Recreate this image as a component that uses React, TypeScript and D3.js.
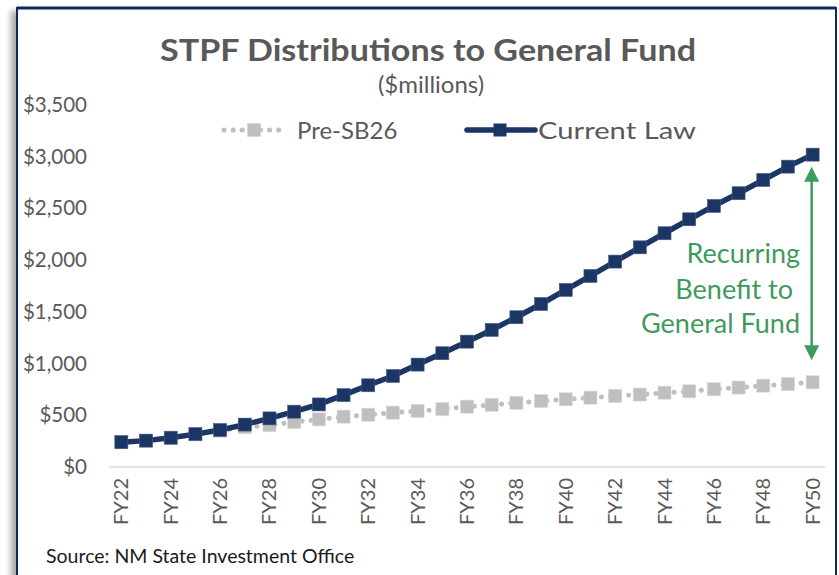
import { useEffect, useRef } from 'react';
import * as d3 from 'd3';

const years: string[] = [
  'FY22', 'FY23', 'FY24', 'FY25', 'FY26', 'FY27', 'FY28', 'FY29', 'FY30', 'FY31',
  'FY32', 'FY33', 'FY34', 'FY35', 'FY36', 'FY37', 'FY38', 'FY39', 'FY40', 'FY41',
  'FY42', 'FY43', 'FY44', 'FY45', 'FY46', 'FY47', 'FY48', 'FY49', 'FY50',
];

// $millions
const preSB26: number[] = [
  240, 254, 283, 315, 350, 385, 405, 435, 461, 486, 505, 525, 541, 560, 583,
  600, 620, 638, 655, 670, 687, 700, 718, 732, 752, 768, 786, 802, 820,
];
const currentLaw: number[] = [
  240, 255, 283, 318, 358, 410, 470, 535, 605, 695, 790, 880, 990, 1100, 1212,
  1325, 1448, 1576, 1712, 1847, 1986, 2124, 2260, 2395, 2524, 2647, 2775, 2904, 3020,
];
const yTicks: number[] = [0, 500, 1000, 1500, 2000, 2500, 3000, 3500];

const FONT = 'Lato, "Open Sans", sans-serif';
const NAVY = '#1b3564';
const GRAY = '#bfbfbf';
const GREEN = '#3f9a5e';
const TEXT = '#595959';

export default function App() {
  const ref = useRef<SVGSVGElement>(null);

  useEffect(() => {
    if (!ref.current) return;
    const svg = d3.select(ref.current);
    svg.selectAll('*').remove();

    const W = 839;
    const H = 575;

    const defs = svg.append('defs');
    const f = defs.append('filter').attr('id', 'shadow').attr('x', '-5%').attr('y', '-5%').attr('width', '110%').attr('height', '110%');
    f.append('feDropShadow').attr('dx', -5).attr('dy', 4).attr('stdDeviation', 3).attr('flood-color', '#000').attr('flood-opacity', 0.35);

    // frame
    svg.append('rect').attr('width', W).attr('height', H).attr('fill', '#fff');
    svg.append('rect')
      .attr('x', 17).attr('y', 8).attr('width', 819).attr('height', 600)
      .attr('fill', '#fff').attr('stroke', '#0e2a5c').attr('stroke-width', 2)
      .attr('filter', 'url(#shadow)');
    svg.append('line').attr('x1', 17).attr('x2', 836).attr('y1', 8).attr('y2', 8)
      .attr('stroke', '#0e2a5c').attr('stroke-width', 3);

    const x = d3.scaleBand<string>().domain(years).range([109, 825]);
    const cx = (d: string) => (x(d) || 0) + x.bandwidth() / 2;
    const y = d3.scaleLinear().domain([0, 3500]).range([467, 105]);

    // title
    svg.append('text').attr('x', 428).attr('y', 61).attr('text-anchor', 'middle')
      .attr('font-family', FONT).attr('font-weight', 'bold').attr('font-size', 31)
      .attr('textLength', 536).attr('lengthAdjust', 'spacingAndGlyphs')
      .attr('fill', TEXT).text('STPF Distributions to General Fund');
    svg.append('text').attr('x', 431).attr('y', 93).attr('text-anchor', 'middle')
      .attr('font-family', FONT).attr('font-size', 24)
      .attr('fill', TEXT).text('($millions)');

    // y axis labels
    const yAxis = svg.append('g').attr('transform', 'translate(87,0)')
      .call(d3.axisLeft(y).tickValues(yTicks).tickSize(0).tickPadding(0)
        .tickFormat((d) => d3.format('$,')(d as number)));
    yAxis.select('.domain').remove();
    yAxis.selectAll('text').attr('font-family', FONT).attr('font-size', 20.5).attr('fill', TEXT);

    // baseline
    svg.append('line').attr('x1', 109).attr('x2', 825).attr('y1', y(0)).attr('y2', y(0))
      .attr('stroke', '#d9d9d9').attr('stroke-width', 1.5);

    // x axis labels
    const xAxis = svg.append('g').attr('transform', `translate(0,${y(0)})`)
      .call(d3.axisBottom(x).tickValues(years.filter((_, i) => i % 2 === 0)).tickSize(0).tickPadding(0));
    xAxis.select('.domain').remove();
    xAxis.selectAll('text')
      .attr('font-family', FONT).attr('font-size', 20).attr('fill', TEXT)
      .attr('transform', 'rotate(-90)')
      .attr('text-anchor', 'end')
      .attr('x', -11).attr('y', 0).attr('dy', '0.35em');

    const line = d3.line<number>().x((_, i) => cx(years[i])).y((d) => y(d));

    // Pre-SB26
    svg.append('path').datum(preSB26).attr('d', line).attr('fill', 'none')
      .attr('stroke', GRAY).attr('stroke-width', 5).attr('stroke-linecap', 'round')
      .attr('stroke-dasharray', '0.1 9');
    const ms = 13;
    svg.append('g').selectAll('rect').data(preSB26).join('rect')
      .attr('x', (_, i) => cx(years[i]) - ms / 2).attr('y', (d) => y(d) - ms / 2)
      .attr('width', ms).attr('height', ms).attr('fill', GRAY)
      .attr('stroke', '#d4d4d4').attr('stroke-width', 1).attr('stroke-dasharray', '1.5 1.5');

    // Current law
    svg.append('path').datum(currentLaw).attr('d', line).attr('fill', 'none')
      .attr('stroke', NAVY).attr('stroke-width', 5.5);
    const mc = 13;
    svg.append('g').selectAll('rect').data(currentLaw).join('rect')
      .attr('x', (_, i) => cx(years[i]) - mc / 2).attr('y', (d) => y(d) - mc / 2)
      .attr('width', mc).attr('height', mc).attr('fill', NAVY)
      .attr('stroke', '#4a5f85').attr('stroke-width', 0.6);

    // legend
    const lg = svg.append('g');
    lg.append('line').attr('x1', 224).attr('x2', 285).attr('y1', 130).attr('y2', 130)
      .attr('stroke', GRAY).attr('stroke-width', 5).attr('stroke-linecap', 'round')
      .attr('stroke-dasharray', '0.1 9');
    lg.append('rect').attr('x', 254 - ms / 2).attr('y', 130 - ms / 2).attr('width', ms).attr('height', ms)
      .attr('fill', GRAY).attr('stroke', '#d4d4d4').attr('stroke-dasharray', '1.5 1.5');
    lg.append('text').attr('x', 297).attr('y', 139).attr('font-family', FONT).attr('font-size', 24)
      .attr('fill', TEXT).text('Pre-SB26');
    lg.append('line').attr('x1', 467).attr('x2', 535).attr('y1', 130).attr('y2', 130)
      .attr('stroke', NAVY).attr('stroke-width', 5.5).attr('stroke-linecap', 'round');
    lg.append('rect').attr('x', 500 - mc / 2).attr('y', 130 - mc / 2).attr('width', mc).attr('height', mc)
      .attr('fill', NAVY);
    lg.append('text').attr('x', 538).attr('y', 139).attr('font-family', FONT).attr('font-size', 24)
      .attr('textLength', 158).attr('lengthAdjust', 'spacingAndGlyphs')
      .attr('fill', TEXT).text('Current Law');

    // annotation
    const ax = cx('FY50') - 1;
    const top = y(currentLaw[currentLaw.length - 1]) + 12;
    const bot = y(preSB26[preSB26.length - 1]) - 22;
    svg.append('line').attr('x1', ax).attr('x2', ax).attr('y1', top + 10).attr('y2', bot - 10)
      .attr('stroke', GREEN).attr('stroke-width', 2.5);
    svg.append('path')
      .attr('d', `M${ax},${top} L${ax - 7.5},${top + 15} L${ax + 7.5},${top + 15} Z`)
      .attr('fill', GREEN);
    svg.append('path')
      .attr('d', `M${ax},${bot} L${ax - 7.5},${bot - 15} L${ax + 7.5},${bot - 15} Z`)
      .attr('fill', GREEN);
    const notes = [['Recurring', 800, 263], ['Benefit to', 793, 299], ['General Fund', 800, 333]] as const;
    notes.forEach(([t, tx, ty]) => {
      svg.append('text').attr('x', tx).attr('y', ty).attr('text-anchor', 'end')
        .attr('font-family', FONT).attr('font-size', 27).attr('fill', GREEN).text(t);
    });

    // source
    svg.append('text').attr('x', 46).attr('y', 563).attr('font-family', FONT).attr('font-size', 19.5)
      .attr('fill', '#1a1a1a').text('Source: NM State Investment Office');
  }, []);

  return (
    <svg ref={ref} width={839} height={575}
      style={{ position: 'absolute', left: 0, top: 0, display: 'block' }} />
  );
}
